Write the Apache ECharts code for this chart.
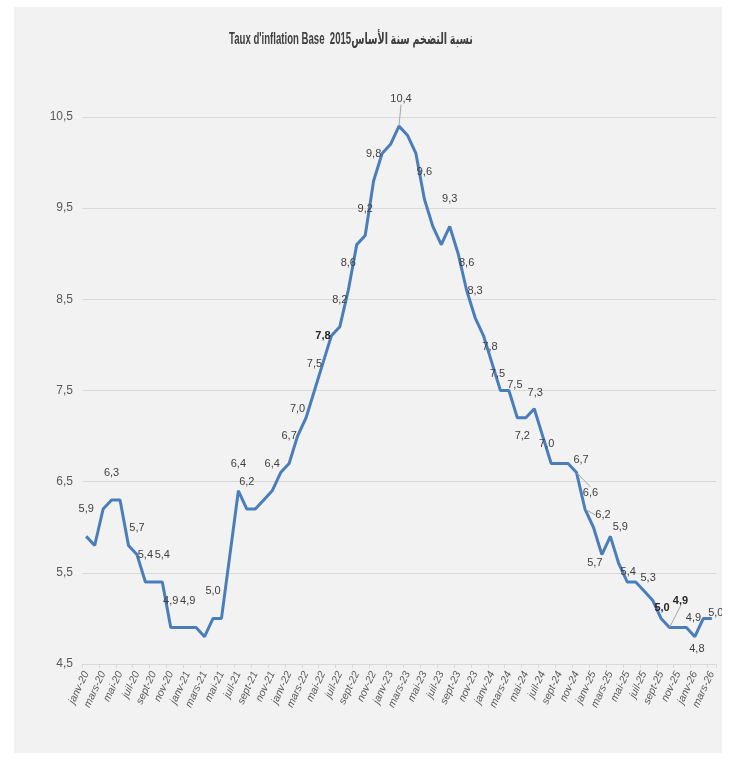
<!DOCTYPE html>
<html>
<head>
<meta charset="utf-8">
<script src="https://cdn.jsdelivr.net/npm/echarts@6/dist/echarts.min.js"></script>
<style>
  html, body { margin: 0; padding: 0; background: #ffffff; }
  #chart { position: absolute; left: 14px; top: 7px; width: 708px; height: 746px; background: #f2f2f2; }
</style>
</head>
<body>
<div id="chart"></div>
<script>
// ---- data ----
const monthNames = ['janv', 'févr', 'mars', 'avr', 'mai', 'juin', 'juil', 'août', 'sept', 'oct', 'nov', 'déc'];
const years = ['20', '21', '22', '23', '24', '25', '26'];
const lastMonthCount = 3; // janv-26 .. mars-26
const inflation = [
  5.9, 5.8, 6.2, 6.3, 6.3, 5.8, 5.7, 5.4, 5.4, 5.4, 4.9, 4.9,   // 2020
  4.9, 4.9, 4.8, 5.0, 5.0, 5.7, 6.4, 6.2, 6.2, 6.3, 6.4, 6.6,   // 2021
  6.7, 7.0, 7.2, 7.5, 7.8, 8.1, 8.2, 8.6, 9.1, 9.2, 9.8, 10.1,  // 2022
  10.2, 10.4, 10.3, 10.1, 9.6, 9.3, 9.1, 9.3, 9.0, 8.6, 8.3, 8.1, // 2023
  7.8, 7.5, 7.5, 7.2, 7.2, 7.3, 7.0, 6.7, 6.7, 6.7, 6.6, 6.2,   // 2024
  6.0, 5.7, 5.9, 5.6, 5.4, 5.4, 5.3, 5.2, 5.0, 4.9, 4.9, 4.9,   // 2025
  4.8, 5.0, 5.0                                                 // 2026
];
const labelledIdx = [0, 3, 6, 7, 9, 10, 12, 15, 18, 19, 22, 24, 25, 27, 28, 30, 31, 33, 34, 37, 40, 43, 45, 46, 48, 49, 50, 51, 53, 54, 57, 58, 59, 61, 62, 64, 66, 68, 69, 71, 72, 74];
const boldIdx = [28, 68, 69];
const leaderIdx = [37, 58, 59, 69];
const yMin = 4.5, yMax = 10.5, yStep = 1;
const title = "Taux d'inflation Base  2015نسبة التضخم سنة الأساس";

// ---- categories ----
const categories = [];
years.forEach((y, yi) => {
  const n = (yi === years.length - 1) ? lastMonthCount : 12;
  for (let m = 0; m < n; m++) categories.push(monthNames[m] + '-' + y);
});

// ---- label placement (style only) ----
const defaultOffset = [0, -27];
const labelOffsets = {
  37: [2, -27], 48: [-2, -16], 49: [-3, -17], 50: [6, -6], 51: [5, 18], 53: [1, -16],
  54: [4, 8], 57: [13, -3], 58: [14, 20], 59: [18, 6], 61: [-7, 8], 62: [10, -9],
  64: [1, -10], 66: [4, -13], 68: [1, -10], 69: [11, -27], 71: [7, -10], 72: [2, 12], 74: [4, -5]
};

const FONT = "'Liberation Sans', Arial, sans-serif";
const fmt = v => Number(v).toFixed(1).replace('.', ',');

const seriesData = inflation.map((v, i) => ({
  value: v,
  label: {
    show: labelledIdx.includes(i),
    fontWeight: boldIdx.includes(i) ? 'bold' : 'normal',
    color: boldIdx.includes(i) ? '#262626' : '#404040'
  },
  labelLine: { show: leaderIdx.includes(i) }
}));

const chart = echarts.init(document.getElementById('chart'), null, { renderer: 'canvas' });
chart.setOption({
  backgroundColor: '#f2f2f2',
  animation: false,
  graphic: [{
    type: 'text',
    x: 337, y: 33,
    scaleX: 0.6,
    style: {
      text: title,
      font: "bold 16px 'Liberation Sans', 'DejaVu Sans', sans-serif",
      fill: '#404040',
      align: 'center',
      verticalAlign: 'middle'
    }
  }],
  grid: { left: 68, right: 6, top: 110, bottom: 89, containLabel: false },
  xAxis: {
    type: 'category',
    data: categories,
    boundaryGap: true,
    axisLine: { lineStyle: { color: '#d9d9d9', width: 1 } },
    axisTick: { show: true, interval: 1, length: 4, lineStyle: { color: '#d9d9d9' } },
    axisLabel: {
      interval: 1, rotate: 65, margin: 8,
      fontFamily: FONT, fontSize: 10.5, color: '#595959', fontStyle: 'italic'
    },
    splitLine: { show: false }
  },
  yAxis: {
    type: 'value',
    min: yMin, max: yMax, interval: yStep,
    axisLine: { show: false },
    axisTick: { show: false },
    axisLabel: {
      margin: 9, fontFamily: FONT, fontSize: 12, color: '#595959',
      formatter: v => fmt(v)
    },
    splitLine: { lineStyle: { color: '#d9d9d9', width: 1 } }
  },
  series: [{
    type: 'line',
    data: seriesData,
    symbol: 'circle',
    symbolSize: 1,
    showSymbol: true,
    itemStyle: { color: '#4a7ebb' },
    lineStyle: { color: '#4a7ebb', width: 3 },
    label: {
      position: 'inside',
      fontFamily: FONT, fontSize: 11, color: '#404040',
      formatter: p => fmt(p.value)
    },
    labelLine: { show: false, lineStyle: { color: '#a6a6a6', width: 1 } },
    labelLayout: function (params) {
      const o = labelOffsets[params.dataIndex] || defaultOffset;
      return { dx: o[0], dy: o[1] };
    }
  }]
});
</script>
</body>
</html>
